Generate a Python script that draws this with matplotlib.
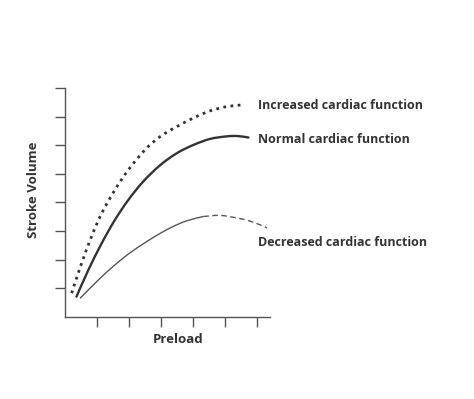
import matplotlib
matplotlib.use("Agg")
import matplotlib.pyplot as plt
from matplotlib.path import Path
from matplotlib.patches import PathPatch

inc_x = [0.21, 0.52, 0.83, 1.15, 1.56, 1.98, 2.5, 2.97, 3.49, 4.01, 4.53, 5.05, 5.57]
inc_y = [0.83, 1.88, 2.81, 3.63, 4.44, 5.14, 5.84, 6.30, 6.65, 6.95, 7.2, 7.35, 7.41]

norm_x = [0.36, 0.73, 1.15, 1.56, 1.98, 2.45, 2.97, 3.49, 4.01, 4.53, 5.05, 5.4, 5.73]
norm_y = [0.71, 1.64, 2.58, 3.39, 4.09, 4.74, 5.30, 5.72, 6.01, 6.22, 6.31, 6.32, 6.27]

dec_x = [0.47, 1.04, 1.56, 2.08, 2.76, 3.3, 3.8, 4.32]
dec_y = [0.65, 1.29, 1.82, 2.28, 2.78, 3.12, 3.36, 3.51]
dec_dash_x = [4.32, 4.84, 5.36, 5.75, 6.09, 6.31]
dec_dash_y = [3.51, 3.55, 3.46, 3.36, 3.22, 3.11]

labels = ["Increased cardiac function", "Normal cardiac function", "Decreased cardiac function"]
label_pos_y = [7.4, 6.2, 2.6]
x_ticks = [1, 2, 3, 4, 5, 6]
y_ticks = [1, 2, 3, 4, 5, 6, 7, 8]


def smooth_path(xs, ys):
    """Cubic Bezier path passing through every given point (Catmull-Rom tangents)."""
    pts = list(zip(xs, ys))
    verts = [pts[0]]
    codes = [Path.MOVETO]
    n = len(pts)
    for i in range(n - 1):
        p0 = pts[i - 1] if i > 0 else pts[i]
        p1 = pts[i]
        p2 = pts[i + 1]
        p3 = pts[i + 2] if i + 2 < n else pts[i + 1]
        c1 = (p1[0] + (p2[0] - p0[0]) / 6, p1[1] + (p2[1] - p0[1]) / 6)
        c2 = (p2[0] - (p3[0] - p1[0]) / 6, p2[1] - (p3[1] - p1[1]) / 6)
        verts += [c1, c2, p2]
        codes += [Path.CURVE4] * 3
    return Path(verts, codes)


def draw(ax, xs, ys, **kw):
    ax.add_patch(PathPatch(smooth_path(xs, ys), fill=False, **kw))


fig = plt.figure(figsize=(4.74, 3.99), dpi=100)
ax = fig.add_axes([0.137, 0.2055, 0.4325, 0.574])
c = "#333333"
draw(ax, inc_x, inc_y, edgecolor=c, lw=2.0, linestyle=(0, (1, 1.6)))
draw(ax, norm_x, norm_y, edgecolor=c, lw=1.7, capstyle="round")
draw(ax, dec_x, dec_y, edgecolor="#555555", lw=1.0)
draw(ax, dec_dash_x, dec_dash_y, edgecolor="#555555", lw=1.0, linestyle=(0, (4, 2.5)))

ax.set_xlim(0, 6.4)
ax.set_ylim(0, 8)
ax.set_xticks(x_ticks)
ax.set_yticks(y_ticks)
ax.set_xticklabels([])
ax.set_yticklabels([])
ax.spines["top"].set_visible(False)
ax.spines["right"].set_visible(False)
for s in ["left", "bottom"]:
    ax.spines[s].set_color("#555555")
    ax.spines[s].set_linewidth(1.0)
ax.tick_params(direction="out", length=7, width=1.0, color="#555555")

fnt = dict(family=["Open Sans", "DejaVu Sans"], fontweight="bold", color="#333333")
for lab, yy in zip(labels, label_pos_y):
    ax.text(6.03, yy, lab, fontsize=9, va="center", ha="left", clip_on=False, **fnt)

ax.set_xlabel("Preload", fontsize=9.5, **fnt)
ax.set_ylabel("Stroke Volume", fontsize=9.5, **fnt)
ax.xaxis.set_label_coords(0.551, -0.07)
ax.yaxis.set_label_coords(-0.122, 0.555)

fig.savefig("out.png", dpi=100)
